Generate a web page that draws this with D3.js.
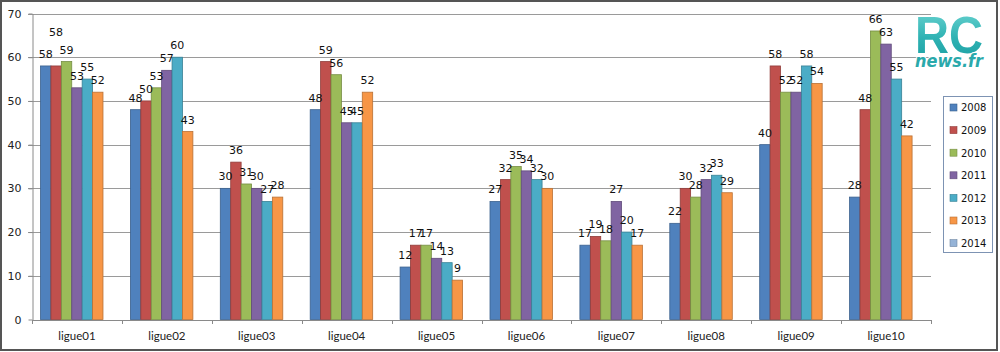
<!DOCTYPE html>
<html>
<head>
<meta charset="utf-8">
<script src="https://cdn.jsdelivr.net/npm/d3@7"></script>
<style>
  html, body { margin: 0; padding: 0; background: #fff; }
  svg { display: block; }
</style>
</head>
<body>
<svg id="chart" width="1000" height="352"></svg>
<script>
// ---- data ----
const categories = ["ligue01","ligue02","ligue03","ligue04","ligue05","ligue06","ligue07","ligue08","ligue09","ligue10"];
const seriesNames = ["2008","2009","2010","2011","2012","2013","2014"];
const v2008 = [58, 48, 30, 48, 12, 27, 17, 22, 40, 28];
const v2009 = [58, 50, 36, 59, 17, 32, 19, 30, 58, 48];
const v2010 = [59, 53, 31, 56, 17, 35, 18, 28, 52, 66];
const v2011 = [53, 57, 30, 45, 14, 34, 27, 32, 52, 63];
const v2012 = [55, 60, 27, 45, 13, 32, 20, 33, 58, 55];
const v2013 = [52, 43, 28, 52, 9, 30, 17, 29, 54, 42];
const v2014 = [null, null, null, null, null, null, null, null, null, null];
const yTicks = [0, 10, 20, 30, 40, 50, 60, 70];

const seriesValues = [v2008, v2009, v2010, v2011, v2012, v2013, v2014];
const colors = ["#4F81BD","#C0504D","#9BBB59","#8064A2","#4BACC6","#F79646","#95B3D7"];
// label displaced by the chart's overlap avoidance (series index, category index, extra px up)
const labelLift = { "1-0": 22 };

const svg = d3.select("#chart");

// frame
svg.append("rect").attr("x", 0).attr("y", 0).attr("width", 1000).attr("height", 352).attr("fill", "#fff");
svg.append("rect").attr("x", 1).attr("y", 1).attr("width", 996).attr("height", 349)
  .attr("fill", "#fff").attr("stroke", "#555").attr("stroke-width", 2);

const x0 = d3.scaleBand().domain(categories).range([32, 931]);
const x1 = d3.scaleBand().domain(seriesNames).range([8.5, x0.bandwidth() - 8.5]);
const y = d3.scaleLinear().domain([0, 70]).range([319.5, 13.5]);

// gridlines
svg.append("g").selectAll("line").data(yTicks.filter(t => t > 0)).join("line")
  .attr("x1", 28).attr("x2", 931)
  .attr("y1", d => Math.round(y(d)) + 0.5).attr("y2", d => Math.round(y(d)) + 0.5)
  .attr("stroke", "#9a9a9a").attr("stroke-width", 1);

// y axis
const yAxis = svg.append("g").attr("transform", "translate(32.5,0)")
  .call(d3.axisLeft(y).tickValues(yTicks).tickSize(4).tickSizeOuter(0).tickPadding(7));
yAxis.select(".domain").attr("stroke", "#8a8a8a");
yAxis.selectAll(".tick line").attr("stroke", "#8a8a8a");
yAxis.selectAll(".tick text").attr("font-family", "DejaVu Sans").attr("font-size", 11).attr("fill", "#222");

// bars
const flat = [];
seriesValues.forEach((vals, si) => {
  vals.forEach((v, ci) => {
    if (v !== null) flat.push({ si, ci, v });
  });
});

const barsG = svg.append("g");
barsG.selectAll("rect").data(flat).join("rect")
  .attr("x", d => x0(categories[d.ci]) + x1(seriesNames[d.si]))
  .attr("y", d => y(d.v))
  .attr("width", x1.bandwidth())
  .attr("height", d => y(0) - y(d.v))
  .attr("fill", d => colors[d.si])
  .attr("stroke", d => d3.color(colors[d.si]).darker(0.8))
  .attr("stroke-width", 0.8);

// x axis
const xAxis = svg.append("g").attr("transform", "translate(0,320)");
xAxis.append("line").attr("x1", 32).attr("x2", 931).attr("y1", 0.5).attr("y2", 0.5).attr("stroke", "#8a8a8a");
const bounds = categories.map(c => x0(c)).concat([x0.range()[1]]);
xAxis.selectAll("line.tk").data(bounds).join("line").attr("class", "tk")
  .attr("x1", d => Math.round(d) + 0.5).attr("x2", d => Math.round(d) + 0.5)
  .attr("y1", 0).attr("y2", 4).attr("stroke", "#8a8a8a");
const xa = svg.append("g").attr("transform", "translate(0,320)")
  .call(d3.axisBottom(x0).tickSize(0).tickPadding(12));
xa.select(".domain").remove();
xa.selectAll(".tick text").attr("font-family", "Lato").attr("font-size", 11.5).attr("fill", "#222");

// value labels
svg.append("g").selectAll("text").data(flat).join("text")
  .attr("x", d => x0(categories[d.ci]) + x1(seriesNames[d.si]) + x1.bandwidth() / 2)
  .attr("y", d => y(d.v) - 8 - (labelLift[d.si + "-" + d.ci] || 0))
  .attr("text-anchor", "middle")
  .attr("font-family", "DejaVu Sans").attr("font-size", 11).attr("fill", "#111")
  .text(d => d.v);

// legend
const lg = svg.append("g");
lg.append("rect").attr("x", 943.5).attr("y", 96.5).attr("width", 49).attr("height", 156)
  .attr("fill", "#fff").attr("stroke", "#7d93b3").attr("stroke-width", 1);
const items = lg.selectAll("g.it").data(seriesNames).join("g").attr("class", "it")
  .attr("transform", (d, i) => `translate(950, ${107.5 + i * 22.6})`);
items.append("rect").attr("x", 0).attr("y", -3.5).attr("width", 7).attr("height", 7)
  .attr("fill", (d, i) => colors[i]).attr("stroke", (d, i) => d3.color(colors[i]).darker(0.8)).attr("stroke-width", 0.6);
items.append("text").attr("x", 11).attr("y", 3.8)
  .attr("font-family", "DejaVu Sans").attr("font-size", 10).attr("fill", "#111")
  .text(d => d);

// logo
const defs = svg.append("defs");
const grad = defs.append("linearGradient").attr("id", "lg1").attr("x1", 0).attr("y1", 0).attr("x2", 0).attr("y2", 1);
grad.append("stop").attr("offset", "0%").attr("stop-color", "#6fd6d3");
grad.append("stop").attr("offset", "55%").attr("stop-color", "#2fb2b3");
grad.append("stop").attr("offset", "100%").attr("stop-color", "#1a9ea2");
const logo = svg.append("g");
logo.append("text").attr("x", 915).attr("y", 53).attr("textLength", 68).attr("lengthAdjust", "spacingAndGlyphs")
  .attr("font-family", "Liberation Sans").attr("font-weight", "bold").attr("font-size", 52)
  .attr("fill", "url(#lg1)").attr("stroke", "#fff").attr("stroke-width", 2.5).attr("paint-order", "stroke")
  .text("RC");
logo.append("text").attr("x", 915).attr("y", 67).attr("textLength", 68).attr("lengthAdjust", "spacingAndGlyphs")
  .attr("font-family", "DejaVu Sans").attr("font-weight", "bold").attr("font-style", "italic").attr("font-size", 17)
  .attr("fill", "#2aa9ab").attr("stroke", "#fff").attr("stroke-width", 2).attr("paint-order", "stroke")
  .text("news.fr");
</script>
</body>
</html>
